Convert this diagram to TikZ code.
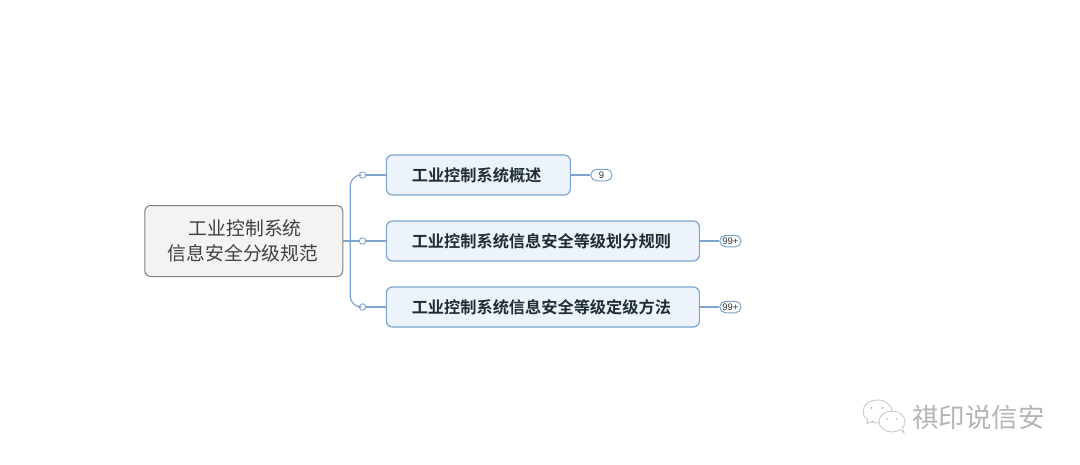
\documentclass[tikz,border=0pt]{standalone}
\usepackage{fontspec}
\usepackage{xcolor}
\usetikzlibrary{positioning, calc}
\newfontfamily\cjk{Noto Sans CJK SC}
\newfontfamily\cjkbold{Noto Sans CJK SC Bold}
\newfontfamily\badgefont{Liberation Sans}
\definecolor{linkblue}{HTML}{7BA4CE}
\definecolor{topicfill}{HTML}{EDF3FA}
\definecolor{rootfill}{HTML}{F3F3F3}
\definecolor{rootline}{HTML}{808080}
\definecolor{topictext}{HTML}{1E2D36}
\definecolor{markgray}{HTML}{B4B4B4}

\begin{document}
\begin{tikzpicture}[
  x=1pt, y=-1pt,
  rootnode/.style={draw=rootline, fill=rootfill, rounded corners=6pt, line width=1pt, minimum width=198pt, minimum height=71pt, inner sep=0pt, align=center, text=black!75, font=\cjk\fontsize{18.8}{25}\selectfont},
  topicnode/.style={draw=linkblue, fill=topicfill, rounded corners=6pt, line width=1.2pt, minimum height=40pt, inner sep=0pt, text=topictext, font=\cjkbold\fontsize{16.2}{20}\selectfont},
  countnode/.style={draw=linkblue, fill=white, rounded corners=5.5pt, line width=1pt, minimum width=21pt, minimum height=11.5pt, inner sep=0pt, text=black!80, font=\badgefont\fontsize{9.5}{10}\selectfont},
  joint/.style={circle, draw=linkblue, fill=white, line width=0.9pt, minimum size=6.5pt, inner sep=0pt},
  link/.style={draw=linkblue, line width=1.2pt},
  bubble/.style={draw=markgray!70, fill=white, line width=0.9pt}
]
  \useasboundingbox (0,0) rectangle (1080,464);

  % 1. Root node
  \node[rootnode] (root) at (243.75,241) {\hspace{3pt}工业控制系统\\信息安全分级规范\kern1.5pt};

  % 2. Topic nodes
  \node[topicnode, minimum width=313pt, right=42.5pt of root] (t2) {工业控制系统信息安全等级划分规则\kern3pt};
  \node[topicnode, minimum width=184pt, anchor=west] (t1) at ($(t2.west)+(0,-66)$) {工业控制系统概述\kern3.5pt};
  \node[topicnode, minimum width=313pt, anchor=west] (t3) at ($(t2.west)+(0,66)$) {工业控制系统信息安全等级定级方法\kern3pt};

  % 3. Count badges
  \node[countnode, right=19.5pt of t1] (c1) {9};
  \node[countnode, right=19.5pt of t2] (c2) {99+};
  \node[countnode, right=19.5pt of t3] (c3) {99+};

  % 4. Joints on the branches
  \coordinate[right=7pt of root] (spine);
  \node[joint, left=19.5pt of t1] (j1) {};
  \node[joint, left=19.5pt of t2] (j2) {};
  \node[joint, left=19.5pt of t3] (j3) {};

  % 5. Edges
  \draw[link, rounded corners=11pt] (spine) |- (j1.west);
  \draw[link, rounded corners=11pt] (spine) |- (j3.west);
  \draw[link] (root.east) -- (j2.west);
  \draw[link] (j1) -- (t1.west);
  \draw[link] (j2) -- (t2.west);
  \draw[link] (j3) -- (t3.west);
  \draw[link] (t1.east) -- (c1.west);
  \draw[link] (t2.east) -- (c2.west);
  \draw[link] (t3.east) -- (c3.west);

  % 6. Watermark in the corner
  \draw[bubble] (877.5,411.5) ellipse (14.5 and 11.5);
  \draw[bubble] (868,418) -- (867,423.5) -- (874,421);
  \draw[bubble] (892,421.5) ellipse (13 and 10.5);
  \draw[bubble] (899,429) -- (904,433) -- (902.5,427);
  \fill[markgray] (871.5,408) circle (1.1) (882.5,408) circle (1.1) (887,419) circle (0.9) (897,419) circle (0.9);
  \node[text=markgray, inner sep=0pt, font=\cjk\fontsize{26.5}{28}\selectfont] (mark) at (978.5,417) {祺印说信安};
\end{tikzpicture}
\end{document}
